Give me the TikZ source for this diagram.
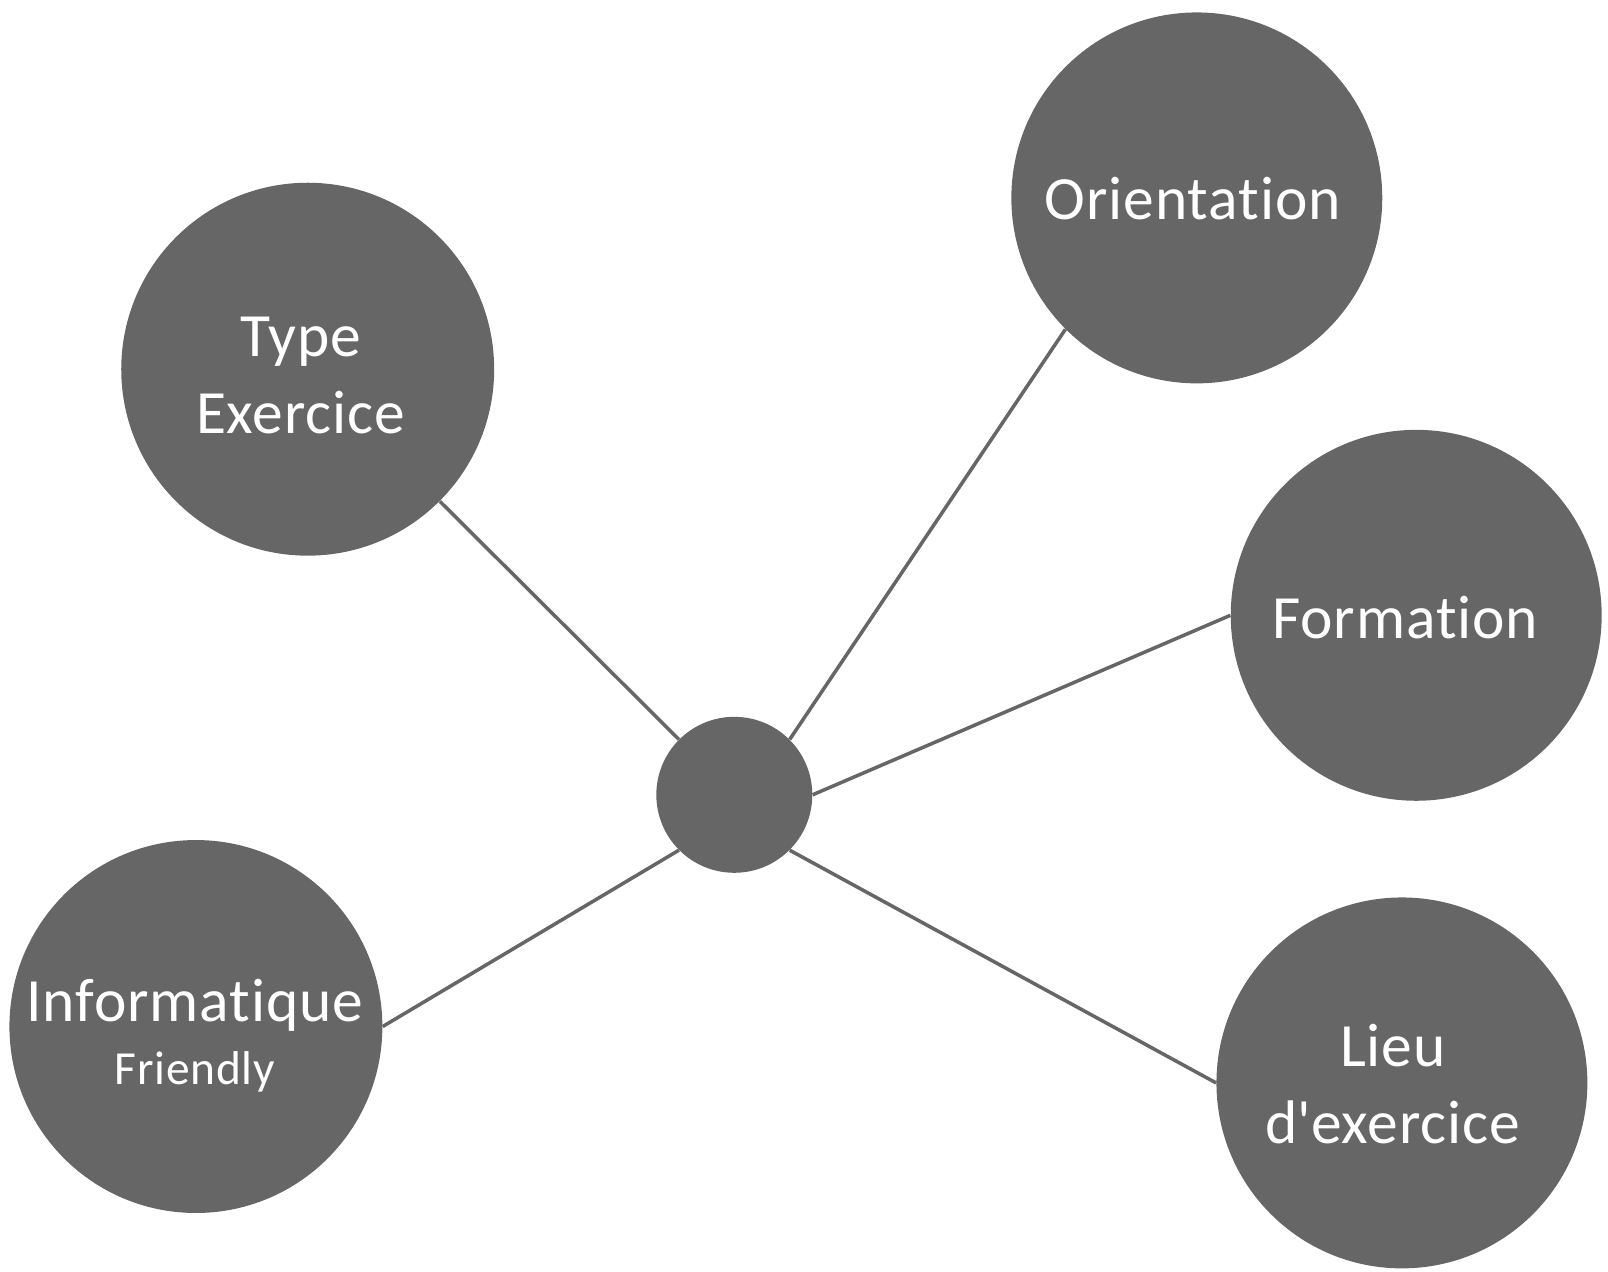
\documentclass[tikz,border=0pt]{standalone}
\usepackage{fontspec}
\setmainfont{Carlito}[Ligatures={NoCommon},LetterSpace=1.5]
\definecolor{bubblegray}{HTML}{666666}
\tikzset{
  bubble/.style={circle,fill=bubblegray,inner sep=0pt,minimum size=7.42cm},
  caption/.style={text=white,align=center,inner sep=0pt,
    font=\fontsize{35}{44}\selectfont},
  hub/.style={circle,fill=bubblegray,inner sep=0pt,minimum size=3.12cm},
  link/.style={draw=bubblegray,line width=2pt}
}
\begin{document}
\begin{tikzpicture}[x=0.02cm,y=-0.02cm]
        \useasboundingbox (0,0) rectangle (1608,1271);

        % the hub in the middle
        \node[hub] (hub) at (734.3,794.8) {};

        % the five bubbles round it
        \node[bubble,minimum size=7.46cm] (type) at (307.7,369.2) {};
        \node[bubble] (orient) at (1196.8,197.9) {};
        \node[bubble] (formation) at (1416.2,615.3) {};
        \node[bubble] (lieu) at (1401.9,1082.9) {};
        \node[bubble,minimum size=7.46cm] (info) at (195.9,1026.5) {};

        % their captions
        \node[caption] (typeText) at ([shift={(-7,6)}]type) {Type\\Exercice};
        \node[caption] (orientText) at ([shift={(-4,1)}]orient) {Orientation};
        \node[caption] (formationText) at ([shift={(-11,2)}]formation) {Formation};
        \node[caption] (lieuText) at ([shift={(-9,1)}]lieu) {Lieu\\d\textquotesingle exercice};
        \node[caption] (infoText) at ([shift={(-1,9)}]info)
            {Informatique\\[-8pt]{\fontsize{27}{32}\selectfont Friendly}};

        % links from the hub
        \draw[link] (hub.north west) -- (type.south east);
        \draw[link] (hub.north east) -- (orient.south west);
        \draw[link] (hub.east) -- (formation.west);
        \draw[link] (hub.south east) -- (lieu.west);
        \draw[link] (hub.south west) -- (info.east);
\end{tikzpicture}
\end{document}
